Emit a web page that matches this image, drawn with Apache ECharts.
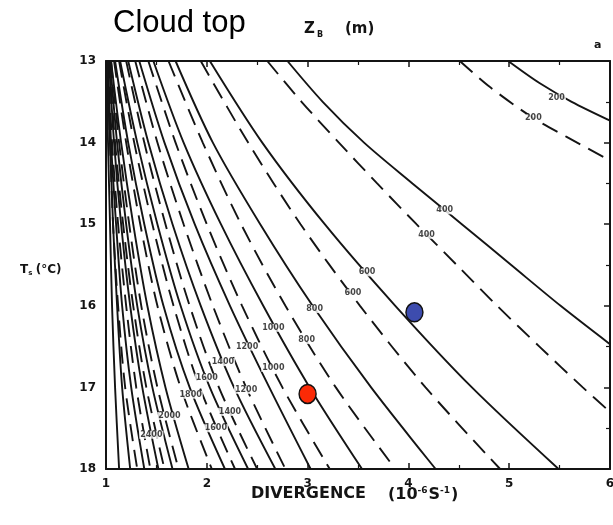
<!DOCTYPE html>
<html>
<head>
<meta charset="utf-8">
<script src="https://cdn.jsdelivr.net/npm/echarts@6/dist/echarts.min.js"></script>
<style>
  html, body { margin: 0; padding: 0; background: #fff; }
  #chart { width: 613px; height: 525px; }
</style>
</head>
<body>
<div id="chart"></div>
<script>
// Axis ranges and tick labels
const divergenceTicks = [1, 2, 3, 4, 5, 6];
const sstTicks = [13, 14, 15, 16, 17, 18];

// Solid contours of cloud-top height Z_B (m); each curve is a list of [divergence, Ts]
const solidLevels = [200, 400, 600, 800, 1000, 1200, 1400, 1600, 1800, 2000, 2200, 2400, 2600, 2800, 3000];
const solidCurves = [
  [[4.99, 13], [5.30, 13.27], [5.62, 13.5], [6.0, 13.73]],
  [[2.80, 13], [3.15, 13.5], [3.56, 14], [4.04, 14.5], [4.53, 15], [5.02, 15.5], [5.51, 16], [6.0, 16.47]],
  [[2.03, 13], [2.55, 14], [3.17, 15], [3.87, 16], [4.63, 17], [5.49, 18]],
  [[1.69, 13], [2.06, 14], [2.53, 15], [3.05, 16], [3.63, 17], [4.27, 18]],
  [[1.47, 13], [1.77, 14], [2.14, 15], [2.56, 16], [3.02, 17], [3.54, 18]],
  [[1.33, 13], [1.58, 14], [1.88, 15], [2.23, 16], [2.62, 17], [3.03, 18]],
  [[1.22, 13], [1.42, 14], [1.66, 15], [1.94, 16], [2.27, 17], [2.68, 18]],
  [[1.14, 13], [1.31, 14], [1.51, 15], [1.74, 16], [2.03, 17], [2.41, 18]],
  [[1.09, 13], [1.22, 14], [1.38, 15], [1.57, 16], [1.83, 17], [2.18, 18]],
  [[1.05, 13], [1.15, 14], [1.27, 15], [1.41, 16], [1.59, 17], [1.82, 18]],
  [[1.04, 13], [1.11, 14], [1.20, 15], [1.31, 16], [1.46, 17], [1.66, 18]],
  [[1.03, 13], [1.08, 14], [1.15, 15], [1.24, 16], [1.36, 17], [1.52, 18]],
  [[1.02, 13], [1.05, 14], [1.10, 15], [1.16, 16], [1.25, 17], [1.38, 18]],
  [[1.01, 13], [1.04, 14], [1.07, 15], [1.11, 16], [1.16, 17], [1.24, 18]],
  [[1.005, 13], [1.02, 14], [1.04, 15], [1.06, 16], [1.09, 17], [1.13, 18]]
];
// Where each solid level is printed: [divergence, Ts, Z]
const solidLabels = [
  [5.47, 13.45, 200], [4.36, 14.83, 400], [3.59, 15.59, 600], [3.07, 16.04, 800],
  [2.66, 16.27, 1000], [2.40, 16.50, 1200], [2.16, 16.69, 1400], [2.0, 16.88, 1600],
  [1.84, 17.09, 1800], [1.63, 17.35, 2000], [1.45, 17.58, 2400]
];

// Dashed contours of Z_B (m)
const dashedLevels = [200, 400, 600, 800, 1000, 1200, 1400, 1600, 1800, 2000, 2200, 2400, 2600];
const dashedCurves = [
  [[4.51, 13], [4.81, 13.32], [5.24, 13.7], [5.57, 13.93], [6.0, 14.22]],
  [[2.60, 13], [2.94, 13.5], [3.31, 14], [3.69, 14.5], [4.08, 15], [4.48, 15.5], [4.88, 16], [5.30, 16.5], [5.73, 17], [6.0, 17.3]],
  [[1.94, 13], [2.41, 14], [2.93, 15], [3.52, 16], [4.17, 17], [4.91, 18]],
  [[1.62, 13], [1.96, 14], [2.34, 15], [2.78, 16], [3.28, 17], [3.87, 18]],
  [[1.42, 13], [1.69, 14], [2.00, 15], [2.35, 16], [2.75, 17], [3.22, 18]],
  [[1.29, 13], [1.51, 14], [1.77, 15], [2.06, 16], [2.39, 17], [2.78, 18]],
  [[1.20, 13], [1.38, 14], [1.59, 15], [1.83, 16], [2.12, 17], [2.50, 18]],
  [[1.13, 13], [1.28, 14], [1.46, 15], [1.67, 16], [1.93, 17], [2.28, 18]],
  [[1.08, 13], [1.20, 14], [1.34, 15], [1.51, 16], [1.74, 17], [2.05, 18]],
  [[1.05, 13], [1.13, 14], [1.23, 15], [1.35, 16], [1.51, 17], [1.72, 18]],
  [[1.03, 13], [1.09, 14], [1.17, 15], [1.27, 16], [1.40, 17], [1.58, 18]],
  [[1.02, 13], [1.06, 14], [1.12, 15], [1.20, 16], [1.30, 17], [1.44, 18]],
  [[1.01, 13], [1.04, 14], [1.07, 15], [1.12, 16], [1.19, 17], [1.31, 18]]
];
const dashedLabels = [
  [5.24, 13.70, 200], [4.18, 15.13, 400], [3.45, 15.84, 600], [2.99, 16.42, 800],
  [2.66, 16.76, 1000], [2.39, 17.03, 1200], [2.23, 17.30, 1400], [2.09, 17.50, 1600]
];

// Marked cases: [divergence, Ts]
const redCase = [3.0, 17.08];
const blueCase = [4.06, 16.08];

const ink = '#141414';
const series = [];

solidCurves.forEach((curve, i) => {
  series.push({
    type: 'line', name: 'solid ' + solidLevels[i], data: curve,
    smooth: 0.3, showSymbol: false, silent: true,
    lineStyle: { color: ink, width: 1.9, type: 'solid' }, z: 2
  });
});
dashedCurves.forEach((curve, i) => {
  series.push({
    type: 'line', name: 'dashed ' + dashedLevels[i], data: curve,
    smooth: 0.3, showSymbol: false, silent: true,
    lineStyle: { color: ink, width: 1.9, type: [17, 9] }, z: 2
  });
});

const contourLabel = {
  show: true, position: 'inside', color: ink, fontSize: 8, fontWeight: 'bold',
  fontFamily: 'DejaVu Sans', backgroundColor: '#fff', padding: [0, 1],
  formatter: p => String(p.value[2])
};
series.push({
  type: 'scatter', data: solidLabels.concat(dashedLabels), symbolSize: 0,
  silent: true, label: contourLabel, z: 5
});

series.push({
  type: 'scatter', data: [redCase], symbol: 'circle', symbolSize: [17, 19], silent: true,
  itemStyle: { color: '#fb2a06', opacity: 1, borderColor: '#111', borderWidth: 1.5 }, z: 10
});
series.push({
  type: 'scatter', data: [blueCase], symbol: 'circle', symbolSize: [17, 19], silent: true,
  itemStyle: { color: '#3d4cae', opacity: 1, borderColor: '#111', borderWidth: 1.5 }, z: 10
});

const axisLine = { show: true, lineStyle: { color: ink, width: 2 } };
const tick = { show: true, inside: true, length: 6, lineStyle: { color: ink, width: 1.5 } };
const minor = { show: true, splitNumber: 2, length: 4, lineStyle: { color: ink, width: 1.2 } };
const tickFont = { color: ink, fontSize: 12, fontWeight: 'bold', fontFamily: 'DejaVu Sans' };

const chart = echarts.init(document.getElementById('chart'), null, { renderer: 'canvas' });
chart.setOption({
  animation: false,
  backgroundColor: '#fff',
  grid: { left: 106, top: 61, right: 3, bottom: 56, containLabel: false, outerBoundsMode: 'none' },
  xAxis: [
    {
      type: 'value', position: 'bottom', min: divergenceTicks[0], max: divergenceTicks[divergenceTicks.length - 1],
      interval: 1, axisLine, axisTick: tick, minorTick: minor, splitLine: { show: false },
      axisLabel: Object.assign({ margin: 9, formatter: v => divergenceTicks.includes(v) ? String(v) : '' }, tickFont)
    },
    {
      type: 'value', position: 'top', min: 1, max: 6, interval: 1,
      axisLine, axisTick: tick, minorTick: minor, splitLine: { show: false }, axisLabel: { show: false }
    }
  ],
  yAxis: [
    {
      type: 'value', position: 'left', inverse: true, min: sstTicks[0], max: sstTicks[sstTicks.length - 1],
      interval: 1, axisLine, axisTick: { show: false }, splitLine: { show: false },
      axisLabel: Object.assign({ margin: 10, formatter: v => sstTicks.includes(v) ? String(v) : '' }, tickFont)
    },
    {
      type: 'value', position: 'right', inverse: true, min: 13, max: 18, interval: 1,
      axisLine, axisTick: tick, minorTick: minor, splitLine: { show: false }, axisLabel: { show: false }
    }
  ],
  graphic: [
    {
      type: 'text', left: 113, top: 8,
      style: { text: 'Cloud top', font: '31px "Liberation Sans", Arial, sans-serif', fill: '#000' }
    },
    { type: 'text', left: 304, top: 22, style: { text: 'Z', font: 'bold 15px "DejaVu Sans"', fill: ink } },
    { type: 'text', left: 317, top: 31, style: { text: 'B', font: 'bold 8px "DejaVu Sans"', fill: ink } },
    { type: 'text', left: 345, top: 22, style: { text: '(m)', font: 'bold 15px "DejaVu Sans"', fill: ink } },
    { type: 'text', left: 594, top: 40, style: { text: 'a', font: 'bold 11px "DejaVu Sans"', fill: ink } },
    { type: 'text', left: 251, top: 486, style: { text: 'DIVERGENCE', font: 'bold 16px "DejaVu Sans"', fill: ink } },
    {
      type: 'text', left: 388, top: 486,
      style: {
        text: '{t|(10}{p|-6}{t|S}{p|-1}{t|)}',
        rich: {
          t: { font: 'bold 16px "DejaVu Sans"', fill: ink },
          p: { font: 'bold 9px "DejaVu Sans"', fill: ink, verticalAlign: 'top', padding: [0, 1, 9, 0] }
        }
      }
    },
    {
      type: 'text', left: 20, top: 264,
      style: {
        text: '{t|T}{s|s} {t|(°C)}',
        rich: {
          t: { font: 'bold 12px "DejaVu Sans"', fill: ink },
          s: { font: 'bold 7px "DejaVu Sans"', fill: ink, padding: [7, 0, 0, 0] }
        }
      }
    }
  ],
  series
});
</script>
</body>
</html>
